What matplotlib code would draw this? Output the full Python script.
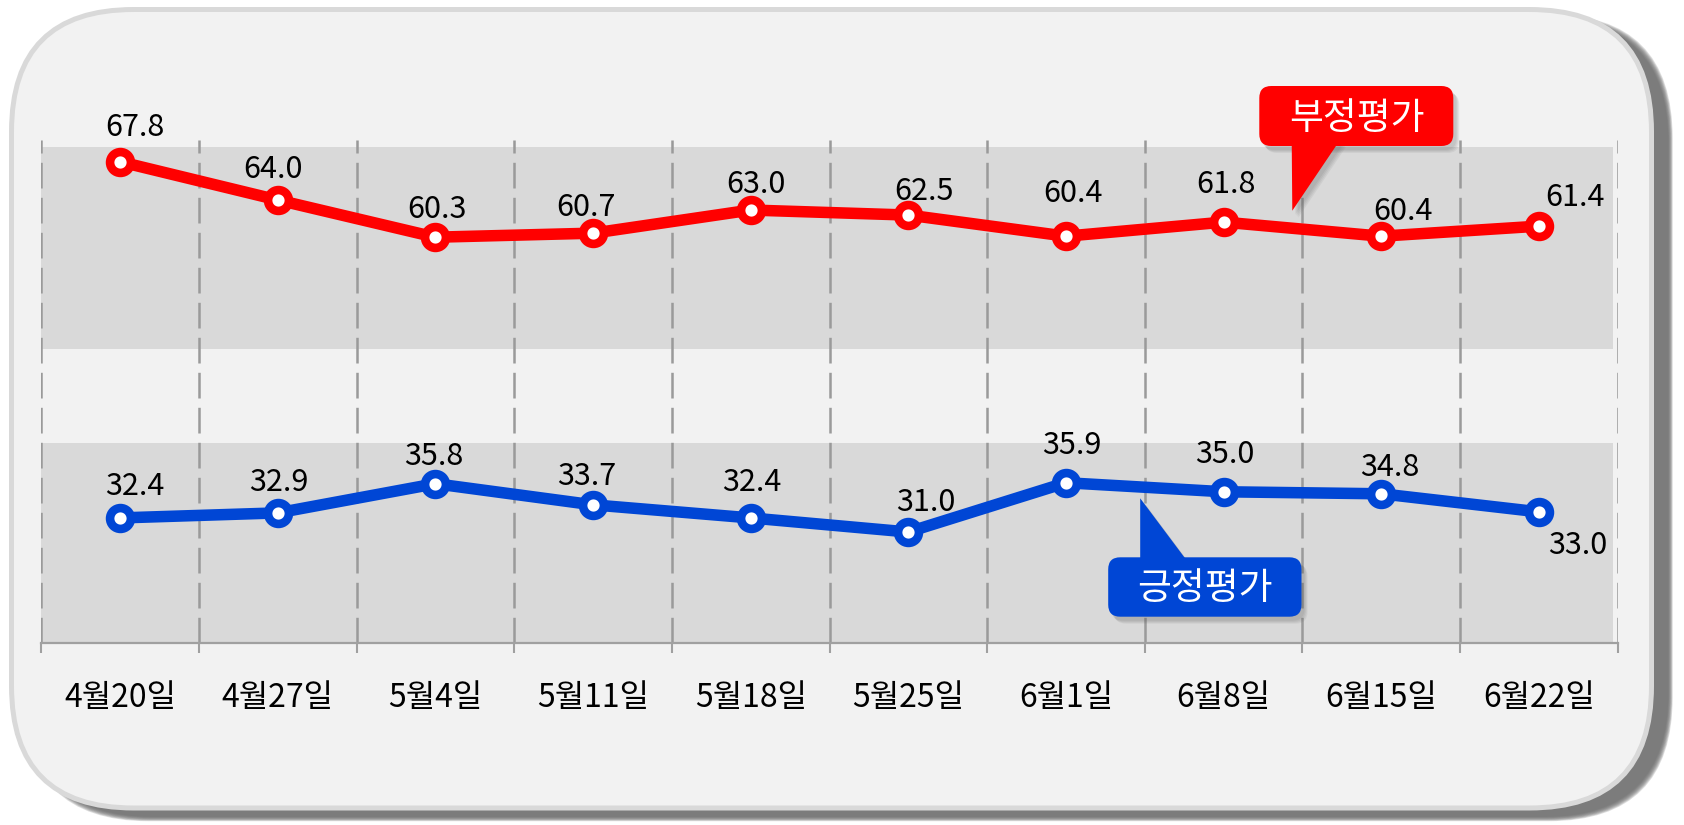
import numpy as np
import matplotlib
matplotlib.use("Agg")
import matplotlib.pyplot as plt
from matplotlib.patches import FancyBboxPatch, Polygon

plt.rcParams['font.family'] = ['Noto Sans CJK KR', 'DejaVu Sans']
plt.rcParams['lines.scale_dashes'] = False

# 데이터
dates = ["4월20일", "4월27일", "5월4일", "5월11일", "5월18일",
         "5월25일", "6월1일", "6월8일", "6월15일", "6월22일"]
neg = [67.8, 64.0, 60.3, 60.7, 63.0, 62.5, 60.4, 61.8, 60.4, 61.4]
pos = [32.4, 32.9, 35.8, 33.7, 32.4, 31.0, 35.9, 35.0, 34.8, 33.0]

# 라벨 위치 보정 (픽셀, 마커 중심 -> 숫자 중심)
neg_off = [(15, 37), (-5, 33), (2, 31), (-7, 28), (5, 28),
           (16, 26), (7, 45), (2, 40), (22, 27), (36, 31)]
pos_off = [(15, 34), (1, 33), (-2, 30), (-6, 31), (1, 38),
           (17, 32), (6, 40), (1, 40), (8, 29), (39, -31)]

RED = "#FF0000"
BLUE = "#0046D5"
W, H = 1684, 825

fig = plt.figure(figsize=(W / 100, H / 100), dpi=100, facecolor="white")

# 바탕 프레임 (픽셀 좌표)
bg = fig.add_axes([0, 0, 1, 1], zorder=0)
bg.set_xlim(0, W)
bg.set_ylim(H, 0)
bg.axis("off")

for k in range(8):
    g = 7 - k
    bg.add_patch(FancyBboxPatch((11.5 + 17 - g * 0.6, 9.5 + 9 - g * 0.6), 1640 + g * 1.2, 798.5 + g * 1.2,
                                boxstyle="round,pad=0,rounding_size=124",
                                fc="#6a6a6a", ec="none", alpha=0.22))
bg.add_patch(FancyBboxPatch((11.5, 9.5), 1640, 798.5,
                            boxstyle="round,pad=0,rounding_size=122",
                            fc="#f2f2f2", ec="#d9d9d9", lw=3.6))

# 메인 차트
ax = fig.add_axes([41.3 / W, 1 - 642.7 / H, (1617.7 - 41.3) / W, (642.7 - 139.6) / H], zorder=2)
ax.set_facecolor("none")
ax.set_xlim(-0.5, 9.5)
ax.set_ylim(20, 70)

ax.axhspan(49.2, 69.3, xmin=0, xmax=0.997, color="#d9d9d9", lw=0, zorder=0)
ax.axhspan(20, 39.8, xmin=0, xmax=0.997, color="#d9d9d9", lw=0, zorder=0)

bounds = np.arange(-0.5, 10, 1)
ax.vlines(bounds, 20, 70, colors="#9a9a9a", linewidth=1.8,
          linestyles=[(0, (18.5, 6.7))], zorder=1)

x = np.arange(len(dates))
ax.plot(x, neg, color=RED, lw=8.3, marker="o", ms=15, mfc="white",
        mec=RED, mew=6.2, zorder=3)
ax.plot(x, pos, color=BLUE, lw=8.3, marker="o", ms=15, mfc="white",
        mec=BLUE, mew=6.2, zorder=3)

for xi, v, (dx, dy) in zip(x, neg, neg_off):
    ax.annotate(f"{v:.1f}", (xi, v), xytext=(dx, dy - 11.3), textcoords="offset pixels",
                ha="center", va="baseline", fontsize=22, color="black", zorder=4)
for xi, v, (dx, dy) in zip(x, pos, pos_off):
    ax.annotate(f"{v:.1f}", (xi, v), xytext=(dx, dy - 11.3), textcoords="offset pixels",
                ha="center", va="baseline", fontsize=22, color="black", zorder=4)

for s in ["top", "left", "right"]:
    ax.spines[s].set_visible(False)
ax.spines["bottom"].set_color("#a0a0a0")
ax.spines["bottom"].set_linewidth(1.6)
ax.set_yticks([])
ax.set_xticks(bounds)
ax.set_xticklabels([])
ax.tick_params(axis="x", which="major", direction="out", length=7.2, width=1.5, color="#a0a0a0")
ax.set_xticks(x, labels=dates, minor=True)
ax.tick_params(axis="x", which="minor", length=0, pad=28, labelsize=23, labelcolor="black")

# 말풍선
top = fig.add_axes([0, 0, 1, 1], zorder=5)
top.set_xlim(0, W)
top.set_ylim(H, 0)
top.axis("off")


def callout(bx, by, bw, bh, tri, text, tx, ty, color):
    for k in range(4):
        sx, sy = 3 + k, 4 + k
        top.add_patch(FancyBboxPatch((bx + sx, by + sy), bw, bh,
                                     boxstyle="round,pad=0,rounding_size=12",
                                     fc="#505050", ec="none", alpha=0.08))
        top.add_patch(Polygon([(px + sx, py + sy) for px, py in tri], closed=True,
                              fc="#505050", ec="none", alpha=0.08))
    top.add_patch(FancyBboxPatch((bx, by), bw, bh, boxstyle="round,pad=0,rounding_size=12",
                                 fc=color, ec="none"))
    top.add_patch(Polygon(tri, closed=True, fc=color, ec="none"))
    top.text(tx, ty, text, ha="center", va="center", fontsize=26.5, color="white")


callout(1259.3, 86, 194, 60, [(1291.7, 140), (1340, 140), (1292.3, 210.7)],
        "부정평가", 1357, 118, RED)
callout(1108.2, 557.3, 193.3, 59.4, [(1140.2, 563), (1188.6, 563), (1140.2, 498.3)],
        "긍정평가", 1205, 588, BLUE)

fig.savefig("out.png", dpi=100, facecolor="white")
